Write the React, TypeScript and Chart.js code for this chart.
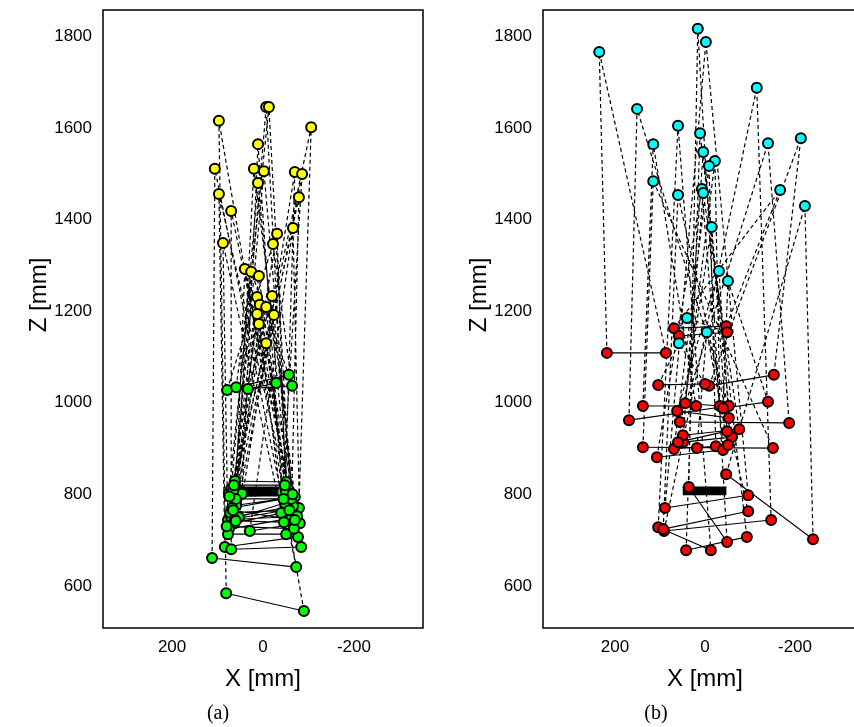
import React, { useEffect, useRef } from "react";
import { Chart, registerables } from "chart.js";

Chart.register(...registerables);

// ---------- shared ticks ----------
const X_TICKS = [200, 0, -200];
const Z_TICKS = [600, 800, 1000, 1200, 1400, 1600, 1800];

// ---------- panel (a) ----------
const A_HEAD_X = [-7, -13, 97, -106, 11, 106, 20, -2, -70, -86, 11, 97, -79, 70, -66, -31, -22, 88, 40, 26, 9, 13, -20, 7, -7, 13, -24, 9, -7];
const A_HEAD_Z = [1646, 1646, 1616, 1602, 1565, 1511, 1511, 1506, 1504, 1500, 1480, 1456, 1449, 1419, 1382, 1369, 1347, 1349, 1292, 1286, 1277, 1231, 1233, 1214, 1209, 1194, 1192, 1172, 1130];
const A_LEFT_X = [62, 75, 81, 77, 46, 112, 59, 70, 53, 64, 70, 84, 75, 70, 29, 66, 79, 77, 60, 59, 72, 62, 33, 80, 68, 66, 74, 60, 64];
const A_LEFT_Z = [829, 803, 584, 744, 801, 661, 776, 750, 750, 737, 812, 685, 724, 680, 720, 808, 1028, 713, 790, 1034, 760, 745, 1030, 730, 770, 765, 795, 742, 820];
const A_RIGHT_X = [-51, -59, -90, -79, -42, -73, -70, -66, -48, -40, -55, -77, -62, -84, -81, -50, -64, -51, -62, -57, -58, -75, -29, -68, -45, -70, -65, -46, -48];
const A_RIGHT_Z = [827, 801, 545, 770, 805, 641, 794, 774, 781, 759, 812, 707, 748, 685, 737, 808, 1037, 713, 790, 1061, 765, 752, 1043, 725, 790, 744, 800, 739, 820];
const A_TABLE_X = [58, -52];
const A_TABLE_Z = [795, 816];

// ---------- panel (b) ----------
const B_HEAD_X = [16, -2, 235, -115, 151, 60, 11, 115, -140, -213, 4, -22, -9, 115, -167, 60, 7, 4, -222, -15, -31, -51, 40, -4, 58];
const B_HEAD_Z = [1817, 1788, 1766, 1688, 1642, 1605, 1589, 1565, 1567, 1578, 1548, 1528, 1517, 1484, 1465, 1454, 1467, 1458, 1430, 1384, 1288, 1266, 1185, 1154, 1130];
const B_LEFT_X = [36, 89, 218, 91, 169, 104, 42, 138, 56, -9, 49, 44, 69, 138, 69, 93, 107, 49, -47, 60, 62, -40, 58, 18, 104];
const B_LEFT_Z = [816, 770, 1109, 720, 962, 728, 678, 993, 958, 1037, 914, 999, 899, 903, 1163, 724, 881, 929, 844, 914, 982, 988, 1146, 901, 1039];
const B_RIGHT_X = [-49, -96, 87, -147, -53, -13, -93, 20, -187, -153, -60, -33, -24, -151, -47, -96, -40, -76, -240, -49, -53, -140, -49, -51, 0];
const B_RIGHT_Z = [696, 798, 1109, 744, 993, 678, 707, 993, 956, 1061, 925, 993, 905, 901, 1167, 763, 897, 942, 702, 938, 967, 1002, 1154, 908, 1041];
const B_TABLE_X = [50, -48];
const B_TABLE_Z = [798, 816];

const FONT_FAMILY = "'Liberation Sans', Arial, sans-serif";

type Pt = { x: number | null; y: number | null };

function buildDatasets(
  hx: number[], hz: number[], lx: number[], lz: number[], rx: number[], rz: number[],
  tx: number[], tz: number[], headColor: string, handColor: string
) {
  const dashed: Pt[] = [];
  const solid: Pt[] = [];
  const heads: Pt[] = [];
  const hands: Pt[] = [];
  for (let i = 0; i < hx.length; i++) {
    dashed.push({ x: lx[i], y: lz[i] }, { x: hx[i], y: hz[i] }, { x: rx[i], y: rz[i] }, { x: null, y: null });
    solid.push({ x: lx[i], y: lz[i] }, { x: rx[i], y: rz[i] }, { x: null, y: null });
    heads.push({ x: hx[i], y: hz[i] });
    hands.push({ x: lx[i], y: lz[i] }, { x: rx[i], y: rz[i] });
  }
  const table: Pt[] = [{ x: tx[0], y: tz[1] }, { x: tx[1], y: tz[1] }];
  const pointStyle = {
    showLine: false,
    pointRadius: 5,
    pointBorderWidth: 2,
    pointBorderColor: "#000",
    borderColor: "#000",
  };
  return [
    { type: "scatter", label: "head", data: heads, backgroundColor: headColor, pointBackgroundColor: headColor, ...pointStyle, order: 0 },
    { type: "scatter", label: "hands", data: hands, backgroundColor: handColor, pointBackgroundColor: handColor, ...pointStyle, order: 1 },
    { type: "line", label: "table", data: table, pointRadius: 0, borderColor: "#000", backgroundColor: "#000", borderWidth: 1, fill: { value: tz[0] }, tension: 0, order: 2 },
    { type: "line", label: "solid", data: solid, pointRadius: 0, borderColor: "#000", borderWidth: 1.1, fill: false, spanGaps: false, tension: 0, order: 3 },
    { type: "line", label: "dashed", data: dashed, pointRadius: 0, borderColor: "#000", borderWidth: 1.2, borderDash: [4, 3], fill: false, spanGaps: false, tension: 0, order: 4 },
  ];
}

type TextItem = { text: string; x: number; y: number; font: string; rotate?: boolean };

function framePlugin(texts: TextItem[]) {
  return {
    id: "frameAndTexts",
    afterDatasetsDraw(chart: any) {
      const { ctx, chartArea } = chart;
      ctx.save();
      ctx.strokeStyle = "#000";
      ctx.lineWidth = 1.5;
      ctx.strokeRect(chartArea.left, chartArea.top, chartArea.right - chartArea.left, chartArea.bottom - chartArea.top);
      ctx.restore();
    },
    afterDraw(chart: any) {
      const { ctx } = chart;
      for (const t of texts) {
        ctx.save();
        ctx.fillStyle = "#000";
        ctx.font = t.font;
        ctx.textAlign = "center";
        ctx.textBaseline = "middle";
        ctx.translate(t.x, t.y);
        if (t.rotate) ctx.rotate(-Math.PI / 2);
        ctx.fillText(t.text, 0, 0);
        ctx.restore();
      }
    },
  };
}

function makeConfig(datasets: any[], xLimit: number, padRight: number, texts: TextItem[]) {
  const tickFont = { family: FONT_FAMILY, size: 17 };
  return {
    type: "scatter" as const,
    data: { datasets },
    options: {
      responsive: false,
      animation: false as const,
      events: [] as any[],
      layout: { padding: { left: 0, right: padRight, top: 10, bottom: 0 } },
      plugins: { legend: { display: false }, tooltip: { enabled: false }, title: { display: false } },
      scales: {
        x: {
          type: "linear" as const,
          min: -xLimit,
          max: xLimit,
          reverse: true,
          grid: { display: false, drawTicks: false },
          border: { display: false },
          ticks: { color: "#000", font: tickFont, padding: 9, callback: (v: any) => String(v) },
          afterBuildTicks: (s: any) => { s.ticks = X_TICKS.map((v) => ({ value: v })); },
          afterFit: (s: any) => { s.height = 99; s.paddingLeft = 0; s.paddingRight = 0; },
        },
        y: {
          type: "linear" as const,
          min: 508,
          max: 1858,
          grid: { display: false, drawTicks: false },
          border: { display: false },
          ticks: { color: "#000", font: tickFont, padding: 11, callback: (v: any) => String(v) },
          afterBuildTicks: (s: any) => { s.ticks = Z_TICKS.map((v) => ({ value: v })); },
          afterFit: (s: any) => { s.width = 103; s.paddingTop = 0; s.paddingBottom = 0; },
        },
      },
    },
    plugins: [framePlugin(texts)],
  };
}

function Panel(props: { config: any; left: number }) {
  const ref = useRef<HTMLCanvasElement>(null);
  useEffect(() => {
    const chart = new Chart(ref.current as HTMLCanvasElement, props.config);
    return () => chart.destroy();
  }, []);
  return (
    <canvas
      ref={ref}
      width={440}
      height={727}
      style={{ position: "absolute", left: props.left, top: 0, width: 440, height: 727, display: "block" }}
    />
  );
}

const LABEL_FONT = `24px ${FONT_FAMILY}`;
const CAPTION_FONT = `20px 'Liberation Serif', 'Times New Roman', serif`;

export default function App() {
  const dsA = buildDatasets(A_HEAD_X, A_HEAD_Z, A_LEFT_X, A_LEFT_Z, A_RIGHT_X, A_RIGHT_Z, A_TABLE_X, A_TABLE_Z, "#FFFF00", "#00FF00");
  const dsB = buildDatasets(B_HEAD_X, B_HEAD_Z, B_LEFT_X, B_LEFT_Z, B_RIGHT_X, B_RIGHT_Z, B_TABLE_X, B_TABLE_Z, "#00FFFF", "#FF0000");
  const cfgA = makeConfig(dsA, 352, 17, [
    { text: "Z [mm]", x: 39, y: 295, font: LABEL_FONT, rotate: true },
    { text: "X [mm]", x: 263, y: 679, font: LABEL_FONT },
    { text: "(a)", x: 218, y: 714, font: CAPTION_FONT },
  ]);
  const cfgB = makeConfig(dsB, 360, 13, [
    { text: "Z [mm]", x: 39, y: 295, font: LABEL_FONT, rotate: true },
    { text: "X [mm]", x: 265, y: 679, font: LABEL_FONT },
    { text: "(b)", x: 216, y: 714, font: CAPTION_FONT },
  ]);
  return (
    <div style={{ position: "fixed", left: 0, top: 0, width: 854, height: 727, overflow: "hidden", background: "#fff" }}>
      <Panel config={cfgA} left={0} />
      <Panel config={cfgB} left={440} />
    </div>
  );
}
